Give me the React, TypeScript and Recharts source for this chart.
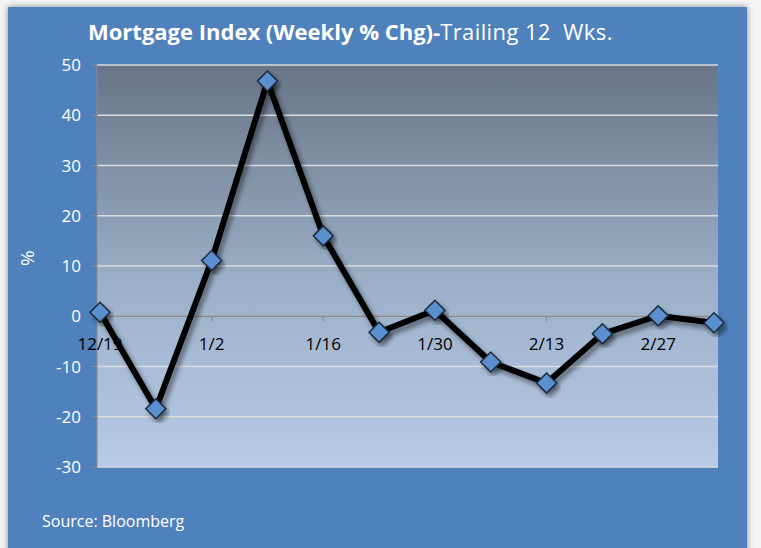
import React from "react";
import {
  LineChart,
  Line,
  XAxis,
  YAxis,
  CartesianGrid,
  ReferenceLine,
  ReferenceDot,
} from "recharts";

const weeks = ["12/19", "12/26", "1/2", "1/9", "1/16", "1/23", "1/30", "2/6", "2/13", "2/20", "2/27", "3/6"];
const pctChange = [0.8, -18.4, 11.1, 46.8, 16.0, -3.2, 1.2, -9.1, -13.3, -3.5, 0.1, -1.3];
const labeledWeeks = ["12/19", "1/2", "1/16", "1/30", "2/13", "2/27"];
const yTicks = [-30, -20, -10, 0, 10, 20, 30, 40, 50];

const data = weeks.map((w, i) => ({ week: w, pct: pctChange[i] }));

const font = "'Open Sans', 'Noto Sans', sans-serif";

const Diamond = (props: any) => {
  const { cx, cy } = props;
  if (cx == null || cy == null) return null;
  const r = 10;
  return (
    <path
      d={`M${cx},${cy - r} L${cx + r},${cy} L${cx},${cy + r} L${cx - r},${cy} Z`}
      fill="#5a8fd0"
      stroke="#1b2a3c"
      strokeWidth={1.5}
      filter="url(#dropShadow)"
    />
  );
};

const WeekLabel = (label: string) => (props: any) => {
  const { cx, cy } = props;
  if (cx == null || cy == null) return null;
  return (
    <g>
      <line x1={cx} y1={cy} x2={cx} y2={cy + 5} stroke="#8a8a8a" strokeWidth={1.2} />
      <text x={cx} y={cy + 34} textAnchor="middle" fill="#000" fontSize={17} fontFamily={font}>
        {label}
      </text>
    </g>
  );
};

const App: React.FC = () => {
  return (
    <div style={{ position: "fixed", left: 0, top: 0, width: 761, height: 548, background: "#f4f4f4", overflow: "hidden" }}>
      <svg width={0} height={0} style={{ position: "absolute" }}>
        <defs>
          <linearGradient id="plotFill" x1="0" y1="0" x2="0" y2="1">
            <stop offset="0%" stopColor="#687587" />
            <stop offset="55%" stopColor="#9cb0c9" />
            <stop offset="100%" stopColor="#b7cbe7" />
          </linearGradient>
          <filter id="dropShadow" x="-20%" y="-20%" width="140%" height="140%">
            <feDropShadow dx={3} dy={4} stdDeviation={2.5} floodColor="#000" floodOpacity={0.45} />
          </filter>
        </defs>
      </svg>
      <div
        style={{
          position: "absolute",
          left: 8,
          top: 7,
          width: 739,
          height: 560,
          background: "#4f81bd",
          boxShadow: "0 0 6px rgba(0,0,0,0.45)",
        }}
      />
      <div
        style={{
          position: "absolute",
          left: 88,
          top: 16,
          color: "#fff",
          fontFamily: font,
          fontSize: 22,
          whiteSpace: "pre",
        }}
      >
        <span style={{ fontWeight: 700 }}>Mortgage Index (Weekly % Chg)-</span>
        <span style={{ letterSpacing: 0.4 }}>Trailing 12  Wks.</span>
      </div>
      <div
        style={{
          position: "absolute",
          left: 42,
          top: 510,
          color: "#fff",
          fontFamily: font,
          fontSize: 16,
        }}
      >
        Source: Bloomberg
      </div>
      <div style={{ position: "absolute", left: 0, top: 0 }}>
        <LineChart width={761} height={548} data={data} margin={{ top: 65, right: 43, bottom: 81, left: 0 }}>
          <CartesianGrid
            vertical={false}
            stroke="#dcdcdc"
            strokeWidth={1.5}
            fill="url(#plotFill)"
            fillOpacity={1}
          />
          <XAxis dataKey="week" hide padding={{ left: 3, right: 4 }} />
          <YAxis
            domain={[-30, 50]}
            ticks={yTicks}
            width={97}
            tickSize={6}
            tickMargin={10}
            stroke="#8a8a8a"
            tick={{ fill: "#ffffff", fontSize: 17, fontFamily: font }}
            label={{
              value: "%",
              angle: -90,
              position: "insideLeft",
              offset: 27,
              fill: "#ffffff",
              fontSize: 19,
              fontFamily: font,
            }}
          />
          <ReferenceLine y={0} stroke="#8a8a8a" strokeWidth={1.5} />
          {labeledWeeks.map((w) => (
            <ReferenceDot key={w} x={w} y={0} r={0} shape={WeekLabel(w)} />
          ))}
          <Line
            type="linear"
            dataKey="pct"
            stroke="#000000"
            strokeWidth={6}
            dot={<Diamond />}
            activeDot={false}
            filter="url(#dropShadow)"
            isAnimationActive={false}
          />
        </LineChart>
      </div>
    </div>
  );
};

export default App;
